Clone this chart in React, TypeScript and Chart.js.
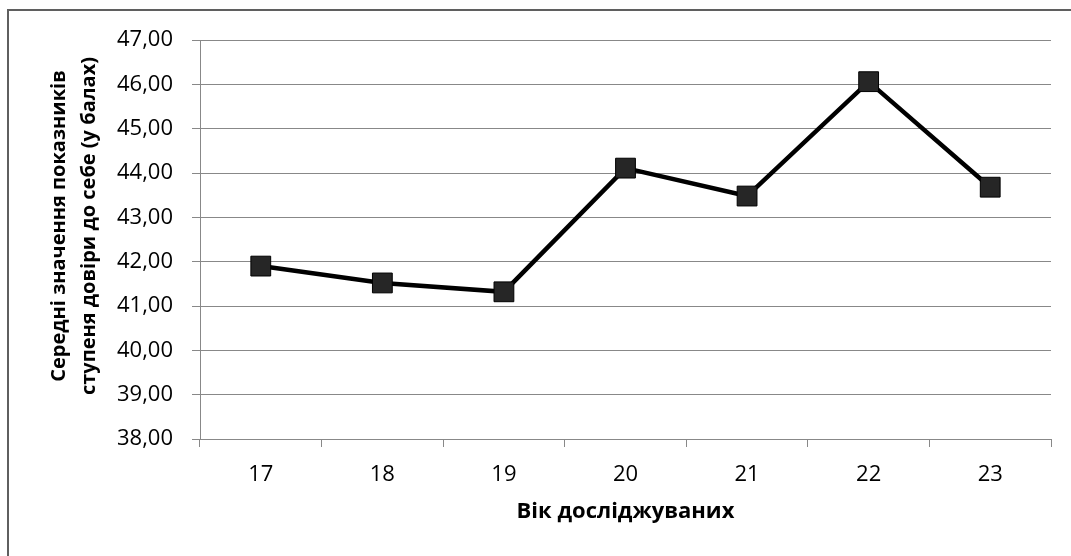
import React, { useEffect, useRef } from "react";
import { Chart, registerables } from "chart.js";

Chart.register(...registerables);

const categories = ["17", "18", "19", "20", "21", "22", "23"];
const values = [41.9, 41.52, 41.32, 44.11, 43.48, 46.06, 43.68];
const yMin = 38;
const yMax = 47;
const yTitleLines = ["Середні значення показників", "ступеня довіри до себе (у балах)"];
const xTitle = "Вік досліджуваних";

const FONT = "'Open Sans', sans-serif";

const framePlugin = {
  id: "frame",
  beforeDraw(chart: any) {
    const ctx = chart.ctx;
    ctx.save();
    ctx.fillStyle = "#ffffff";
    ctx.fillRect(0, 0, chart.width, chart.height);
    ctx.strokeStyle = "#5f5f5f";
    ctx.lineWidth = 2;
    ctx.beginPath();
    ctx.moveTo(8, chart.height);
    ctx.lineTo(8, 10);
    ctx.lineTo(chart.width, 10);
    ctx.stroke();
    ctx.restore();
  },
  afterDraw(chart: any) {
    const ctx = chart.ctx;
    const area = chart.chartArea;
    ctx.save();
    ctx.fillStyle = "#000";
    ctx.font = `bold 22px ${FONT}`;
    ctx.textAlign = "center";
    ctx.textBaseline = "middle";
    ctx.fillText(xTitle, (area.left + area.right) / 2, 512);
    ctx.font = `bold 20px ${FONT}`;
    ctx.translate(74, 226);
    ctx.rotate(-Math.PI / 2);
    ctx.fillText(yTitleLines[0], 0, -15);
    ctx.fillText(yTitleLines[1], 0, 15);
    ctx.restore();
  },
};

export default function App() {
  const ref = useRef<HTMLCanvasElement | null>(null);
  useEffect(() => {
    if (!ref.current) return;
    const chart = new Chart(ref.current, {
      type: "line",
      data: {
        labels: categories,
        datasets: [
          {
            data: values,
            borderColor: "#000",
            borderWidth: 4.5,
            tension: 0,
            pointStyle: "rect",
            pointRadius: 14,
            pointHoverRadius: 14,
            pointBackgroundColor: "#262626",
            pointBorderColor: "#000",
            pointBorderWidth: 1,
            clip: false as any,
          },
        ],
      },
      options: {
        animation: false,
        responsive: false,
        maintainAspectRatio: false,
        layout: { padding: { top: 40, right: 20, left: 0, bottom: 0 } },
        plugins: {
          legend: { display: false },
          tooltip: { enabled: false },
        },
        scales: {
          x: {
            offset: true,
            afterFit(scale: any) {
              scale.height = 117;
            },
            grid: {
              offset: true,
              drawOnChartArea: false,
              drawTicks: true,
              tickLength: 8,
              color: "#888888",
              lineWidth: 1,
            },
            border: { color: "#888888", width: 1 },
            ticks: {
              color: "#000",
              font: { family: FONT, size: 22 },
              padding: 15,
              maxRotation: 0,
            },
          },
          y: {
            min: yMin,
            max: yMax,
            afterFit(scale: any) {
              scale.width = 200;
            },
            grid: {
              color: "#888888",
              lineWidth: 1,
              tickLength: 8,
            },
            border: { color: "#888888", width: 1 },
            ticks: {
              stepSize: 1,
              color: "#000",
              font: { family: FONT, size: 22 },
              padding: 19,
              callback: (v: any) => Number(v).toFixed(2).replace(".", ","),
            },
          },
        },
      },
      plugins: [framePlugin],
    });
    return () => chart.destroy();
  }, []);
  return (
    <div style={{ position: "fixed", left: 0, top: 0, width: 1071, height: 556, overflow: "hidden" }}>
      <canvas ref={ref} width={1071} height={556} style={{ width: 1071, height: 556, display: "block" }} />
    </div>
  );
}
